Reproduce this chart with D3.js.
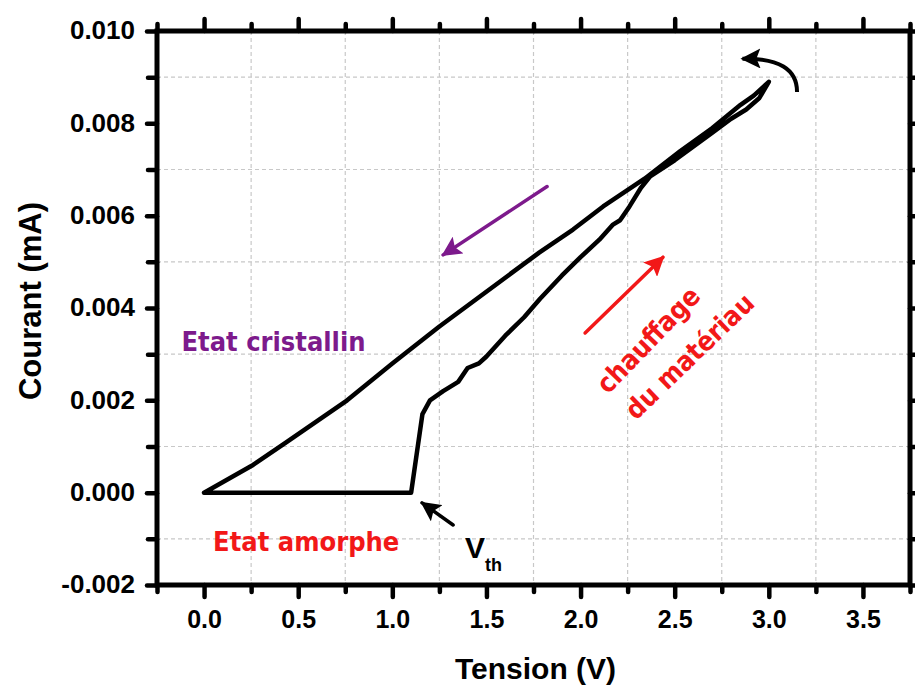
<!DOCTYPE html>
<html>
<head>
<meta charset="utf-8">
<script src="https://cdn.jsdelivr.net/npm/d3@7"></script>
<style>
  body { margin: 0; background: #fff; }
  svg { display: block; }
</style>
</head>
<body>
<div id="chart"></div>
<script>
"use strict";

// Heating branch (amorphous -> threshold -> crystalline)
const tensionChauffage = [0.00, 1.10, 1.16, 1.20, 1.27, 1.35, 1.40, 1.46, 1.50, 1.60, 1.70, 1.785, 1.90, 2.00, 2.10, 2.17, 2.21, 2.26, 2.32, 2.37, 2.50, 2.70, 2.80, 2.88, 2.95, 3.00];
const courantChauffage = [0.0000, 0.0000, 0.0017, 0.0020, 0.0022, 0.0024, 0.0027, 0.0028, 0.00295, 0.0034, 0.0038, 0.0042, 0.0047, 0.0051, 0.00548, 0.0058, 0.0059, 0.0062, 0.0066, 0.00685, 0.0072, 0.0078, 0.0081, 0.0083, 0.00855, 0.0089];

// Return branch (crystalline state)
const tensionRetour = [3.00, 2.92, 2.85, 2.70, 2.53, 2.34, 2.12, 1.96, 1.78, 1.25, 1.00, 0.76, 0.44, 0.26, 0.00];
const courantRetour = [0.0089, 0.0086, 0.0084, 0.0079, 0.0074, 0.0068, 0.0062, 0.0057, 0.0052, 0.0036, 0.0028, 0.0020, 0.0011, 0.0006, 0.0000];

// Tick values
const xMajor = [0.0, 0.5, 1.0, 1.5, 2.0, 2.5, 3.0, 3.5];
const xMinor = [-0.25, 0.25, 0.75, 1.25, 1.75, 2.25, 2.75, 3.25, 3.75];
const yMajor = [-0.002, 0.000, 0.002, 0.004, 0.006, 0.008, 0.010];
const yMinor = [-0.001, 0.001, 0.003, 0.005, 0.007, 0.009];

const width = 915, height = 686;
const margin = { left: 157, right: 5, top: 31, bottom: 101 };

const svg = d3.select("#chart").append("svg")
  .attr("width", width)
  .attr("height", height);

const x = d3.scaleLinear().domain([-0.25, 3.75]).range([margin.left, width - margin.right]);
const y = d3.scaleLinear().domain([-0.002, 0.010]).range([height - margin.bottom, margin.top]);

const axisFont = "'Liberation Sans', Arial, sans-serif";
const annoFont = "'DejaVu Sans Condensed', 'DejaVu Sans', Verdana, sans-serif";

// Dashed grid on minor positions
const grid = svg.append("g").attr("stroke", "#c8c8c8").attr("stroke-width", 1.2).attr("stroke-dasharray", "4,3");
grid.selectAll("line.gx").data(xMinor.slice(1, -1)).join("line")
  .attr("x1", d => x(d)).attr("x2", d => x(d))
  .attr("y1", y.range()[1]).attr("y2", y.range()[0]);
grid.selectAll("line.gy").data(yMinor).join("line")
  .attr("y1", d => y(d)).attr("y2", d => y(d))
  .attr("x1", x.range()[0]).attr("x2", x.range()[1]);

// Axes (ticks only, frame drawn after)
const fmtY = d => d3.format(".3f")(d).replace("\u2212", "-");
function styleTicks(g) {
  g.select(".domain").remove();
  g.selectAll(".tick line").attr("stroke", "#000").attr("stroke-width", 4.5).attr("stroke-linecap", "round");
}

const yb = y.range()[0], yt = y.range()[1], xl = x.range()[0], xr = x.range()[1];

svg.append("g").attr("transform", `translate(0,${yb})`)
  .call(d3.axisBottom(x).tickValues(xMajor).tickSize(12).tickFormat(d3.format(".1f")))
  .call(styleTicks)
  .call(g => g.selectAll("text").attr("y", 43).attr("dy", null)
    .attr("font-family", axisFont).attr("font-weight", "bold").attr("font-size", 25).attr("fill", "#000"));
svg.append("g").attr("transform", `translate(0,${yb})`)
  .call(d3.axisBottom(x).tickValues(xMinor).tickSize(7).tickFormat(""))
  .call(styleTicks);

svg.append("g").attr("transform", `translate(0,${yt})`)
  .call(d3.axisTop(x).tickValues(xMajor).tickSize(12).tickFormat(""))
  .call(styleTicks);
svg.append("g").attr("transform", `translate(0,${yt})`)
  .call(d3.axisTop(x).tickValues(xMinor).tickSize(7).tickFormat(""))
  .call(styleTicks);

svg.append("g").attr("transform", `translate(${xl},0)`)
  .call(d3.axisLeft(y).tickValues(yMajor).tickSize(10).tickFormat(fmtY))
  .call(styleTicks)
  .call(g => g.selectAll("text").attr("x", -22).attr("dy", "0.3em")
    .attr("font-family", axisFont).attr("font-weight", "bold").attr("font-size", 26).attr("fill", "#000"));
svg.append("g").attr("transform", `translate(${xl},0)`)
  .call(d3.axisLeft(y).tickValues(yMinor).tickSize(9).tickFormat(""))
  .call(styleTicks);

svg.append("g").attr("transform", `translate(${xr},0)`)
  .call(d3.axisRight(y).tickValues(yMajor).tickSize(10).tickFormat(""))
  .call(styleTicks);
svg.append("g").attr("transform", `translate(${xr},0)`)
  .call(d3.axisRight(y).tickValues(yMinor).tickSize(9).tickFormat(""))
  .call(styleTicks);

// Frame
svg.append("rect")
  .attr("x", xl).attr("y", yt)
  .attr("width", xr - xl).attr("height", yb - yt)
  .attr("fill", "none").attr("stroke", "#000").attr("stroke-width", 5);

// Axis titles
svg.append("text")
  .attr("x", (xl + xr) / 2 + 2).attr("y", 679)
  .attr("text-anchor", "middle")
  .attr("font-family", axisFont).attr("font-weight", "bold").attr("font-size", 30)
  .text("Tension (V)");
svg.append("text")
  .attr("transform", `translate(41,${(yt + yb) / 2 - 7}) rotate(-90)`)
  .attr("text-anchor", "middle")
  .attr("font-family", axisFont).attr("font-weight", "bold").attr("font-size", 31)
  .text("Courant (mA)");

// I-V curve
const line = d3.line().x(d => x(d[0])).y(d => y(d[1]));
const allerPts = d3.zip(tensionChauffage, courantChauffage);
const retourPts = d3.zip(tensionRetour, courantRetour);
svg.append("path").datum(allerPts.concat(retourPts.slice(1)))
  .attr("d", line)
  .attr("fill", "none").attr("stroke", "#000").attr("stroke-width", 4.5)
  .attr("stroke-linejoin", "round").attr("stroke-linecap", "round");

// Arrow markers
const defs = svg.append("defs");
function marker(id, color, size) {
  defs.append("marker")
    .attr("id", id).attr("viewBox", "0 0 10 10").attr("refX", 9).attr("refY", 5)
    .attr("markerUnits", "userSpaceOnUse").attr("markerWidth", size).attr("markerHeight", size)
    .attr("orient", "auto")
    .append("path").attr("d", "M0,0 L10,5 L0,10 L2,5 Z").attr("fill", color);
}
marker("arr-purple", "#7d1a8c", 20);
marker("arr-red", "#f21818", 20);
marker("arr-black", "#000", 20);

function arrow(p0, p1, color, id, w) {
  svg.append("line")
    .attr("x1", x(p0[0])).attr("y1", y(p0[1]))
    .attr("x2", x(p1[0])).attr("y2", y(p1[1]))
    .attr("stroke", color).attr("stroke-width", w).attr("stroke-linecap", "round")
    .attr("marker-end", `url(#${id})`);
}
arrow([1.822, 0.00663], [1.27, 0.00515], "#7d1a8c", "arr-purple", 3.5);
arrow([2.024, 0.00346], [2.438, 0.0051], "#f21818", "arr-red", 3.5);
arrow([1.323, -0.0007], [1.158, -0.00022], "#000", "arr-black", 3.5);

// Curved arrow at the top of the sweep
svg.append("path")
  .attr("d", `M${x(3.15)},${y(0.00868)} Q${x(3.15)},${y(0.00942)} ${x(2.86)},${y(0.0094)}`)
  .attr("fill", "none").attr("stroke", "#000").attr("stroke-width", 4)
  .attr("marker-end", "url(#arr-black)");

// Labels
svg.append("text")
  .attr("x", x(-0.12)).attr("y", y(0.00307))
  .attr("font-family", annoFont).attr("font-weight", "bold").attr("font-size", 27)
  .attr("fill", "#7d1a8c").text("Etat cristallin");
svg.append("text")
  .attr("x", x(0.048)).attr("y", y(-0.00126))
  .attr("font-family", annoFont).attr("font-weight", "bold").attr("font-size", 27)
  .attr("fill", "#f21818").text("Etat amorphe");

const vth = svg.append("text")
  .attr("x", x(1.386)).attr("y", y(-0.00141))
  .attr("font-family", axisFont).attr("font-weight", "bold").attr("font-size", 30)
  .attr("fill", "#000");
vth.append("tspan").text("V");
vth.append("tspan").attr("dy", 13).attr("font-size", 18).text("th");

svg.append("text")
  .attr("transform", "translate(608,395) rotate(-46)")
  .attr("font-family", annoFont).attr("font-weight", "bold").attr("font-size", 27)
  .attr("fill", "#f21818").text("chauffage");
svg.append("text")
  .attr("transform", "translate(636,421) rotate(-44)")
  .attr("font-family", annoFont).attr("font-weight", "bold").attr("font-size", 27)
  .attr("fill", "#f21818").text("du matériau");
</script>
</body>
</html>
